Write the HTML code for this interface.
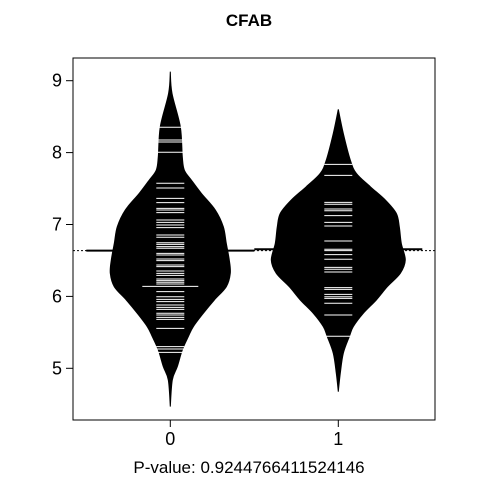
<!DOCTYPE html>
<html><head><meta charset="utf-8"><style>
html,body{margin:0;padding:0;background:#fff}
svg text{font-family:"Liberation Sans",Arial,sans-serif;fill:#000}
</style></head><body>
<svg id="chart" width="480" height="480" viewBox="0 0 480 480">
<text x="249" y="26" font-size="17" font-weight="bold" text-anchor="middle">CFAB</text>
<g id="plot"></g>
<rect x="73" y="58" width="362" height="362" fill="none" stroke="#000" stroke-width="1"/>
<text x="249" y="473" font-size="17" text-anchor="middle">P-value: 0.9244766411524146</text>
</svg>
<script>
const groups=["0","1"];
const yTicks=[5,6,7,8,9];
const overallMean=6.636;
const groupMeans=[6.636,6.655];
const median0=6.140;
const densityY0=[9.126,8.824,8.361,7.944,7.758,7.619,7.434,7.202,6.970,6.738,6.506,6.321,6.135,5.950,5.765,5.579,5.440,5.255,5.023,4.837,4.467];
const densityW0=[0,1.7,10,12,14,21,31,45,53,56,59,60,56,44,33,23,18,12,7,2,0];
const densityY1=[8.602,8.268,7.897,7.712,7.526,7.341,7.155,6.970,6.738,6.506,6.321,6.135,5.950,5.765,5.579,5.440,5.208,4.930,4.675];
const densityW1=[0,5,12,18,32,47,58,61,63,67,62,49,38,25,15,11,5,2,0];
const obs0=[8.352,8.175,8.147,8.004,7.573,7.508,7.364,7.304,7.225,7.202,7.165,7.063,7.030,6.993,6.956,6.854,6.822,6.747,6.724,6.692,6.669,6.599,6.576,6.520,6.497,6.437,6.414,6.353,6.321,6.293,6.242,6.219,6.196,6.172,6.066,5.996,5.959,5.927,5.880,5.848,5.820,5.765,5.741,5.709,5.681,5.556,5.301,5.269,5.222];
const obs1=[7.837,7.684,7.308,7.281,7.216,7.192,7.123,7.030,6.979,6.771,6.655,6.636,6.581,6.516,6.404,6.377,6.339,6.122,6.098,6.029,5.996,5.973,5.904,5.741,5.445];

const NS="http://www.w3.org/2000/svg";
const g=document.getElementById('plot');
function yS(v){return 80.7+(9-v)*71.9;}
function xS(i){return 170.3+i*168;}
function el(t,a){const e=document.createElementNS(NS,t);for(const k in a)e.setAttribute(k,a[k]);g.appendChild(e);return e;}
function smooth(P){
  let d='M'+P[0][0]+','+P[0][1];
  for(let i=0;i<P.length-1;i++){
    const p0=P[Math.max(i-1,0)],p1=P[i],p2=P[i+1],p3=P[Math.min(i+2,P.length-1)];
    const c1=[p1[0]+(p2[0]-p0[0])/6,p1[1]+(p2[1]-p0[1])/6];
    const c2=[p2[0]-(p3[0]-p1[0])/6,p2[1]-(p3[1]-p1[1])/6];
    d+=' C'+c1[0]+','+c1[1]+' '+c2[0]+','+c2[1]+' '+p2[0]+','+p2[1];
  }
  return d;
}

yTicks.forEach(v=>{
  const t=el('line',{x1:66,x2:73,y1:yS(v),y2:yS(v),stroke:'#000'});
  
  
  const l=el('text',{x:57,y:yS(v)+6,'font-size':18,'text-anchor':'middle'});
  l.textContent=v;
  
  
});
groups.forEach((c,i)=>{
  const t=el('line',{x1:xS(i),x2:xS(i),y1:420,y2:427,stroke:'#000'});
  
  
  const l=el('text',{x:xS(i),y:445,'font-size':18,'text-anchor':'middle'});
  l.textContent=c;
  
  
});
const om=el('line',{x1:73,x2:435,y1:yS(overallMean),y2:yS(overallMean),stroke:'#000','stroke-dasharray':'2,2'});



const dens=[[densityY0,densityW0],[densityY1,densityW1]];
const obs=[obs0,obs1];
dens.forEach((d,i)=>{
  const cx=xS(i);
  const gm=el('line',{x1:cx-84,x2:cx+84,y1:yS(groupMeans[i]),y2:yS(groupMeans[i]),stroke:'#000','stroke-width':2});
  
  
  const L=d[0].map((v,k)=>[cx-d[1][k],yS(v)]);
  const R=d[0].map((v,k)=>[cx+d[1][k],yS(v)]).reverse();
  const p=el('path',{d:smooth(L)+' L'+smooth(R).slice(1)+' Z',fill:'#000',stroke:'#000','stroke-width':1});
  
  
  obs[i].forEach(v=>{
    const b=el('line',{x1:cx-14,x2:cx+14,y1:yS(v),y2:yS(v),stroke:'#fff','stroke-width':1});
    
    
  });
});
const md=el('line',{x1:xS(0)-28,x2:xS(0)+28,y1:yS(median0),y2:yS(median0),stroke:'#fff','stroke-width':1});


</script>
</body></html>
